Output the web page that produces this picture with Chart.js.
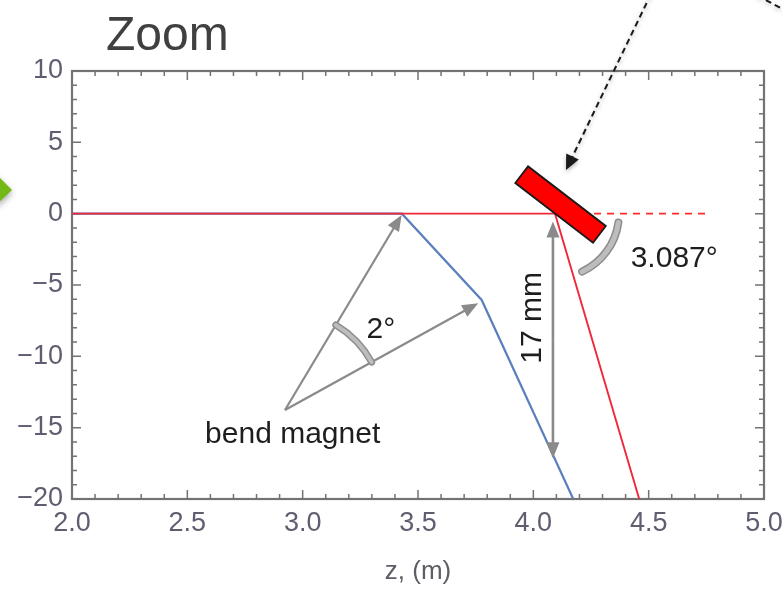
<!DOCTYPE html>
<html lang="en">
<head>
<meta charset="UTF-8">
<title>Zoom</title>
<script src="https://cdn.jsdelivr.net/npm/chart.js@4.4.0/dist/chart.umd.min.js"></script>
<style>
  html, body { margin: 0; padding: 0; background: #fff; }
  #wrap { width: 782px; height: 589px; }
</style>
</head>
<body>
<div id="wrap"><canvas id="chart1"></canvas></div>
<script>
// beam paths (z in m, offset in mm)
const blueZ = [2.0, 3.43, 3.776, 4.173];
const blueY = [0, 0, -6.05, -20];
const redZ = [2.0, 4.094, 4.459];
const redY = [0, 0, -20];
const dashZ = [4.094, 4.766];
const dashY = [0, 0];

// axes
const xTicks = [2.0, 2.5, 3.0, 3.5, 4.0, 4.5, 5.0];
const yTicks = [-20, -15, -10, -5, 0, 5, 10];

const FONT = "'Liberation Sans', Arial, sans-serif";

function pts(xs, ys) {
  return xs.map((x, i) => ({ x: x, y: ys[i] }));
}

function arrowHead(ctx, x1, y1, x2, y2, len, w, color) {
  const a = Math.atan2(y2 - y1, x2 - x1);
  ctx.save();
  ctx.translate(x2, y2);
  ctx.rotate(a);
  ctx.fillStyle = color;
  ctx.beginPath();
  ctx.moveTo(0, 0);
  ctx.lineTo(-len, -w / 2);
  ctx.lineTo(-len, w / 2);
  ctx.closePath();
  ctx.fill();
  ctx.restore();
}

function arrow(ctx, x1, y1, x2, y2, color, lw, len, w) {
  const a = Math.atan2(y2 - y1, x2 - x1);
  ctx.save();
  ctx.strokeStyle = color;
  ctx.lineWidth = lw;
  ctx.beginPath();
  ctx.moveTo(x1, y1);
  ctx.lineTo(x2 - Math.cos(a) * (len - 2), y2 - Math.sin(a) * (len - 2));
  ctx.stroke();
  ctx.restore();
  arrowHead(ctx, x1, y1, x2, y2, len, w, color);
}

function grayArc(ctx, cx, cy, r, a0, a1, w) {
  ctx.save();
  ctx.lineCap = 'round';
  ctx.strokeStyle = '#8d8d8d';
  ctx.lineWidth = w + 2;
  ctx.beginPath();
  ctx.arc(cx, cy, r, a0, a1);
  ctx.stroke();
  ctx.strokeStyle = '#bdbdbd';
  ctx.lineWidth = w - 1;
  ctx.beginPath();
  ctx.arc(cx, cy, r, a0, a1);
  ctx.stroke();
  ctx.restore();
}

// frame with inward ticks on all four sides
const framePlugin = {
  id: 'frame',
  beforeDatasetsDraw(chart) {
    const ctx = chart.ctx;
    const a = chart.chartArea;
    const xs = chart.scales.x, ys = chart.scales.y;
    ctx.save();
    ctx.strokeStyle = '#737373';
    ctx.lineWidth = 1.5;
    for (let i = 0; i <= 30; i++) {
      const v = 2 + i * 0.1;
      const px = xs.getPixelForValue(v);
      const len = i % 5 === 0 ? 9 : 5;
      ctx.beginPath();
      ctx.moveTo(px, a.bottom); ctx.lineTo(px, a.bottom - len);
      ctx.moveTo(px, a.top); ctx.lineTo(px, a.top + len);
      ctx.stroke();
    }
    for (let i = 0; i <= 30; i++) {
      const v = -20 + i;
      const py = ys.getPixelForValue(v);
      const len = i % 5 === 0 ? 9 : 5;
      ctx.beginPath();
      ctx.moveTo(a.left, py); ctx.lineTo(a.left + len, py);
      ctx.moveTo(a.right, py); ctx.lineTo(a.right - len, py);
      ctx.stroke();
    }
    ctx.lineWidth = 2.2;
    ctx.strokeRect(a.left, a.top, a.right - a.left, a.bottom - a.top);
    ctx.restore();
  }
};

// sketch annotations on top of the plot
const notesPlugin = {
  id: 'notes',
  afterDraw(chart) {
    const ctx = chart.ctx;
    const xs = chart.scales.x, ys = chart.scales.y;
    const P = (z, y) => [xs.getPixelForValue(z), ys.getPixelForValue(y)];

    // title
    ctx.save();
    ctx.fillStyle = '#404040';
    ctx.font = '48px ' + FONT;
    ctx.textBaseline = 'alphabetic';
    ctx.fillText('Zoom', 106, 50);
    ctx.restore();

    // green pointer on the left edge
    ctx.save();
    ctx.shadowColor = 'rgba(0,0,0,0.35)';
    ctx.shadowBlur = 6;
    ctx.shadowOffsetY = 3;
    ctx.fillStyle = '#74b816';
    ctx.beginPath();
    ctx.moveTo(-4, 174);
    ctx.lineTo(12, 190);
    ctx.lineTo(-4, 205);
    ctx.closePath();
    ctx.fill();
    ctx.restore();

    // dashed black arrow to the mirror
    const [d0x, d0y] = P(4.51, 15.4);
    const [d1x, d1y] = P(4.1416, 3.06);
    ctx.save();
    ctx.shadowColor = 'rgba(0,0,0,0.3)';
    ctx.shadowBlur = 4;
    ctx.shadowOffsetY = 2;
    ctx.strokeStyle = '#1a1a1a';
    ctx.lineWidth = 2;
    ctx.setLineDash([6, 4]);
    ctx.beginPath();
    const ang = Math.atan2(d1y - d0y, d1x - d0x);
    ctx.moveTo(d0x, d0y);
    ctx.lineTo(d1x - Math.cos(ang) * 12, d1y - Math.sin(ang) * 12);
    ctx.stroke();
    const [e0x, e0y] = P(4.97, 15.3);
    const [e1x, e1y] = P(5.12, 14.0);
    ctx.beginPath();
    ctx.moveTo(e0x, e0y);
    ctx.lineTo(e1x, e1y);
    ctx.stroke();
    ctx.setLineDash([]);
    arrowHead(ctx, d0x, d0y, d1x, d1y, 15, 14, '#1a1a1a');
    ctx.restore();

    // red mirror
    const [mx, my] = P(4.118, 0.64);
    ctx.save();
    ctx.translate(mx, my);
    ctx.rotate(37.5 * Math.PI / 180);
    ctx.fillStyle = '#ff0000';
    ctx.strokeStyle = '#1a1a1a';
    ctx.lineWidth = 1.8;
    ctx.fillRect(-49, -10.5, 98, 21);
    ctx.strokeRect(-49, -10.5, 98, 21);
    ctx.restore();

    // 3.087 degree arc and label
    const [kx, ky] = P(4.094, 0);
    grayArc(ctx, kx, ky, 64, 8 * Math.PI / 180, 65 * Math.PI / 180, 6);
    ctx.save();
    ctx.fillStyle = '#1e1e1e';
    ctx.font = '30px ' + FONT;
    const [tx, ty] = P(4.422, -3.73);
    ctx.fillText('3.087°', tx, ty);
    ctx.restore();

    // 17 mm double arrow
    const [v0x, v0y] = P(4.085, -0.55);
    const [v1x, v1y] = P(4.085, -17.15);
    const gray = '#8a8a8a';
    const vm = (v0y + v1y) / 2;
    arrow(ctx, v0x, vm, v0x, v0y, gray, 2.6, 16, 13);
    arrow(ctx, v0x, vm, v1x, v1y, gray, 2.6, 16, 13);
    ctx.save();
    const [lx, ly] = P(3.998, -7.3);
    ctx.translate(lx, ly);
    ctx.rotate(-Math.PI / 2);
    ctx.fillStyle = '#1e1e1e';
    ctx.font = '30px ' + FONT;
    ctx.textAlign = 'center';
    ctx.textBaseline = 'middle';
    ctx.fillText('17 mm', 0, 0);
    ctx.restore();

    // bend magnet arrows
    const [bx, by] = P(2.9234, -13.76);
    const [a1x, a1y] = P(3.429, -0.09);
    const [a2x, a2y] = P(3.761, -6.28);
    arrow(ctx, bx, by, a1x, a1y, gray, 2.2, 16, 13);
    arrow(ctx, bx, by, a2x, a2y, gray, 2.2, 16, 13);
    const t1 = Math.atan2(a1y - by, a1x - bx);
    const t2 = Math.atan2(a2y - by, a2x - bx);
    grayArc(ctx, bx, by, 99, t1, t2, 5);

    ctx.save();
    ctx.fillStyle = '#1e1e1e';
    ctx.font = '30px ' + FONT;
    const [g1x, g1y] = P(3.277, -8.7);
    ctx.fillText('2°', g1x, g1y);
    const [g2x, g2y] = P(2.577, -16.08);
    ctx.fillText('bend magnet', g2x, g2y);
    ctx.restore();
  }
};

const data = {
  datasets: [
    {
      data: pts(blueZ, blueY),
      borderColor: '#5b7fbd',
      borderWidth: 2.2,
      order: 3
    },
    {
      // red beam drawn over the blue one along z axis
      data: pts(redZ, redY),
      borderColor: '#f0283a',
      borderWidth: 1.9,
      order: 1
    },
    {
      data: pts(dashZ, dashY),
      borderColor: '#ff2a2a',
      borderWidth: 1.8,
      borderDash: [7, 6],
      order: 2
    }
  ]
};

const ctx = document.getElementById('chart1');
const chart1 = new Chart(ctx, {
  type: 'scatter',
  data: data,
  plugins: [framePlugin, notesPlugin],
  options: {
    responsive: true,
    maintainAspectRatio: false,
    animation: false,
    showLine: true,
    elements: { point: { radius: 0 }, line: { tension: 0 } },
    layout: { padding: { left: 0, top: 71, right: 18, bottom: 0 } },
    plugins: {
      legend: { display: false },
      tooltip: { enabled: false }
    },
    scales: {
      x: {
        type: 'linear',
        min: 2,
        max: 5,
        afterFit(scale) {
          scale.height = 90;
          scale.paddingLeft = 0;
          scale.paddingRight = 0;
        },
        afterBuildTicks(scale) { scale.ticks = xTicks.map(v => ({ value: v })); },
        grid: { display: false, drawTicks: false },
        border: { display: false },
        ticks: {
          padding: 8,
          color: '#5e5e70',
          font: { family: FONT, size: 27 },
          maxRotation: 0,
          callback: v => v.toFixed(1)
        },
        title: {
          display: true,
          text: 'z, (m)',
          color: '#5e5e66',
          font: { family: FONT, size: 26 },
          padding: { top: 0, bottom: 2 }
        }
      },
      y: {
        type: 'linear',
        min: -20,
        max: 10,
        afterFit(scale) {
          scale.width = 72;
          scale.paddingTop = 0;
          scale.paddingBottom = 0;
        },
        afterBuildTicks(scale) { scale.ticks = yTicks.map(v => ({ value: v })); },
        grid: { display: false, drawTicks: false },
        border: { display: false },
        ticks: {
          padding: 9,
          color: '#5e5e70',
          font: { family: FONT, size: 27 },
          callback: v => (v < 0 ? '\u2212' + Math.abs(v) : String(v))
        }
      }
    }
  }
});
</script>
</body>
</html>
